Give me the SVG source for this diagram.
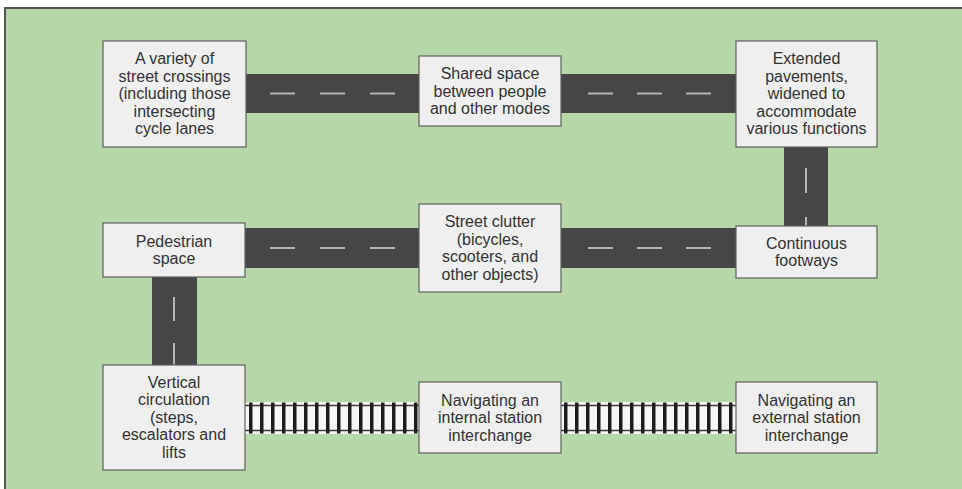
<svg xmlns="http://www.w3.org/2000/svg" width="962" height="489" viewBox="0 0 962 489">
<style>
.node rect{fill:#efefef;stroke:#5f5f5f;stroke-width:1.2}
.node text{font-family:"Liberation Sans",Arial,sans-serif;font-size:16px;fill:#333;text-anchor:middle}
.road{fill:#464646}
.dash{stroke:#b4b4b4;stroke-width:2}
.bed{fill:#f6f6f6}
.rail{stroke:#3a3a3a;stroke-width:1.5}
.ties{stroke:#1c1c1c;stroke-width:31;stroke-dasharray:3.5 7.5}
</style>
<rect x="0" y="0" width="962" height="489" fill="#ffffff"/>
<rect x="4" y="7" width="958" height="482" fill="#555555"/>
<rect x="6" y="9" width="956" height="480" fill="#b6d7a8"/>
<g id="connectors">
  <rect class="road" x="245" y="74" width="174" height="39"/>
  <rect class="road" x="561" y="74" width="175" height="39"/>
  <rect class="road" x="784" y="147" width="44" height="79"/>
  <rect class="road" x="245" y="228" width="174" height="40"/>
  <rect class="road" x="561" y="228" width="175" height="40"/>
  <rect class="road" x="152" y="277" width="45" height="88"/>
  <path class="dash" d="M270 93.5h25M320 93.5h25M370 93.5h25M588 93.5h25M637 93.5h25M686 93.5h25"/>
  <path class="dash" d="M270 248h25M320 248h25M370 248h25M588 248h25M637 248h25M686 248h25"/>
  <path class="dash" d="M806 168v25M806 217v9"/>
  <path class="dash" d="M174 297v24M174 343v22"/>
  <rect class="bed" x="245" y="402" width="174" height="32"/>
  <rect class="bed" x="561" y="402" width="175" height="32"/>
  <path class="rail" d="M245 405.5h174M245 430.5h174M561 405.5h175M561 430.5h175"/>
  <line class="ties" x1="249" y1="418" x2="419" y2="418"/>
  <line class="ties" x1="564" y1="418" x2="736" y2="418"/>
</g>
<g id="n1" class="node"><rect x="103" y="41" width="143" height="106"/>
  <text x="174.5" y="64">A variety of</text><text x="174.5" y="81.5">street crossings</text><text x="174.5" y="99">(including those</text><text x="174.5" y="116.5">intersecting</text><text x="174.5" y="134">cycle lanes</text></g>
<g id="n2" class="node"><rect x="419" y="56" width="142" height="70"/>
  <text x="490" y="79">Shared space</text><text x="490" y="96.5">between people</text><text x="490" y="114">and other modes</text></g>
<g id="n3" class="node"><rect x="736" y="41" width="141" height="106"/>
  <text x="806.5" y="64">Extended</text><text x="806.5" y="81.5">pavements,</text><text x="806.5" y="99">widened to</text><text x="806.5" y="116.5">accommodate</text><text x="806.5" y="134">various functions</text></g>
<g id="n4" class="node"><rect x="736" y="226" width="141" height="52"/>
  <text x="806.5" y="248.5">Continuous</text><text x="806.5" y="266">footways</text></g>
<g id="n5" class="node"><rect x="103" y="223" width="142" height="54"/>
  <text x="174" y="246.7">Pedestrian</text><text x="174" y="264.2">space</text></g>
<g id="n6" class="node"><rect x="419" y="204" width="142" height="88"/>
  <text x="490" y="227.3">Street clutter</text><text x="490" y="244.8">(bicycles,</text><text x="490" y="262.3">scooters, and</text><text x="490" y="279.8">other objects)</text></g>
<g id="n7" class="node"><rect x="103" y="365" width="142" height="105"/>
  <text x="174" y="387.7">Vertical</text><text x="174" y="405.2">circulation</text><text x="174" y="422.7">(steps,</text><text x="174" y="440.2">escalators and</text><text x="174" y="457.7">lifts</text></g>
<g id="n8" class="node"><rect x="419" y="382" width="142" height="71"/>
  <text x="490" y="405.7">Navigating an</text><text x="490" y="423.2">internal station</text><text x="490" y="440.7">interchange</text></g>
<g id="n9" class="node"><rect x="736" y="382" width="141" height="71"/>
  <text x="806.5" y="405.7">Navigating an</text><text x="806.5" y="423.2">external station</text><text x="806.5" y="440.7">interchange</text></g>
</svg>
